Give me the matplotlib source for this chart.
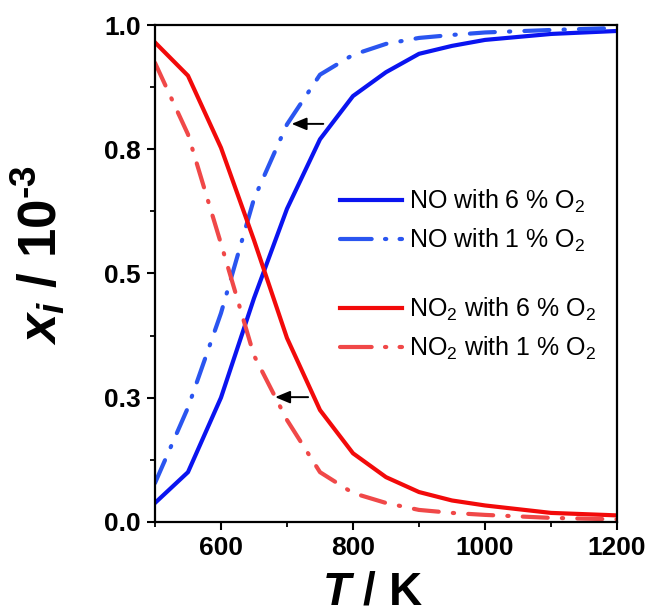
import matplotlib
matplotlib.use("Agg")
import matplotlib.pyplot as plt
from matplotlib.ticker import MultipleLocator
from matplotlib.lines import Line2D

plt.rcParams['font.family'] = ['Liberation Sans', 'DejaVu Sans']
plt.rcParams['mathtext.fontset'] = 'custom'
plt.rcParams['mathtext.rm'] = 'Liberation Sans:bold'
plt.rcParams['mathtext.it'] = 'Liberation Sans:italic:bold'
plt.rcParams['mathtext.bf'] = 'Liberation Sans:bold'

T = [500, 550, 600, 650, 700, 750, 800, 850, 900, 950, 1000, 1100, 1200]
no_6 = [0.038, 0.10, 0.25, 0.45, 0.63, 0.77, 0.857, 0.905, 0.942, 0.958, 0.970, 0.982, 0.988]
no_1 = [0.078, 0.23, 0.42, 0.65, 0.80, 0.90, 0.94, 0.962, 0.974, 0.980, 0.985, 0.990, 0.994]
no2_6 = [0.965, 0.898, 0.753, 0.567, 0.37, 0.225, 0.138, 0.09, 0.06, 0.043, 0.033, 0.018, 0.013]
no2_1 = [0.924, 0.78, 0.56, 0.335, 0.205, 0.10, 0.058, 0.038, 0.024, 0.018, 0.014, 0.008, 0.005]

y_ticks = [0.0, 0.25, 0.5, 0.75, 1.0]
y_ticklabels = ['0.0', '0.3', '0.5', '0.8', '1.0']
x_ticks = [600, 800, 1000, 1200]
x_ticklabels = ['600', '800', '1000', '1200']

labels = ['NO with 6 % O$\\mathregular{_2}$', 'NO with 1 % O$\\mathregular{_2}$',
          'NO$\\mathregular{_2}$ with 6 % O$\\mathregular{_2}$', 'NO$\\mathregular{_2}$ with 1 % O$\\mathregular{_2}$']

c_blue = '#0a14f0'
c_blue2 = '#2a55f0'
c_red = '#f20a0a'
c_red2 = '#f04848'
dd = (6.0, 3.4, 0.3, 3.4)
dd_leg = (7.6, 3.2, 0.3, 3.2)

fig = plt.figure(figsize=(6.55, 6.13), dpi=100)
ax = fig.add_axes([0.2366, 0.1487, 0.7054, 0.8105])

lw = 3.0
l1, = ax.plot(T, no_6, color=c_blue, lw=lw)
l2, = ax.plot(T, no_1, color=c_blue2, lw=lw, dashes=dd, dash_capstyle='round')
l3, = ax.plot(T, no2_6, color=c_red, lw=lw)
l4, = ax.plot(T, no2_1, color=c_red2, lw=lw, dashes=dd, dash_capstyle='round')

arrow = dict(arrowstyle='-|>,head_length=0.6,head_width=0.25', color='black',
             lw=1.4, mutation_scale=15, shrinkA=0, shrinkB=0)
ax.annotate('', xy=(707, 0.801), xytext=(755, 0.801), arrowprops=arrow)
ax.annotate('', xy=(682, 0.251), xytext=(732, 0.251), arrowprops=arrow)

ax.set_xlim(500, 1200)
ax.set_ylim(0, 1.0)
ax.set_xticks(x_ticks, x_ticklabels)
ax.xaxis.set_minor_locator(MultipleLocator(100))
ax.set_yticks(y_ticks, y_ticklabels)
ax.yaxis.set_minor_locator(MultipleLocator(0.125))
ax.tick_params(which='major', direction='out', length=6, width=1.5, labelsize=19, pad=4)
ax.tick_params(which='minor', direction='out', length=3.5, width=1.3)
for lab in ax.get_xticklabels() + ax.get_yticklabels():
    lab.set_fontweight('bold')
for s in ax.spines.values():
    s.set_linewidth(1.6)

ax.set_xlabel('$T$ / K', fontsize=33, fontweight='bold')
ax.xaxis.set_label_coords(0.47, -0.098)
ax.set_ylabel('$x_i$ / 10$^{\\text{-}3}$', fontsize=38, fontweight='bold')
ax.yaxis.set_label_coords(-0.19, 0.537)

h1 = Line2D([], [], color=c_blue, lw=lw)
h2 = Line2D([], [], color=c_blue2, lw=lw, dashes=dd_leg, dash_capstyle='round')
h3 = Line2D([], [], color=c_red, lw=lw)
h4 = Line2D([], [], color=c_red2, lw=lw, dashes=dd_leg, dash_capstyle='round')

kw = dict(loc='upper left', frameon=False, fontsize=18, handlelength=2.5,
          handletextpad=0.25, labelspacing=0.47, borderpad=0, borderaxespad=0)
leg1 = ax.legend(handles=[h1, h2], labels=labels[:2], bbox_to_anchor=(0.40, 0.672), **kw)
ax.add_artist(leg1)
leg2 = ax.legend(handles=[h3, h4], labels=labels[2:], bbox_to_anchor=(0.40, 0.455), **kw)

fig.savefig('out.png', dpi=100)
